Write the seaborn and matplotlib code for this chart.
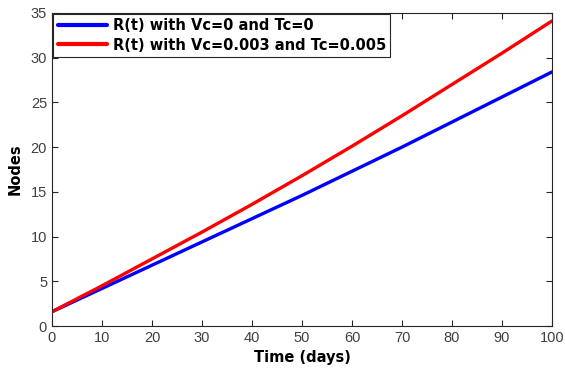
import numpy as np
import pandas as pd
import matplotlib
matplotlib.use("Agg")
import matplotlib.pyplot as plt
import seaborn as sns

days = [0, 10, 20, 30, 40, 50, 60, 70, 80, 90, 100]
r_base = [1.6, 4.2, 6.8, 9.4, 12.0, 14.6, 17.3, 20.0, 22.8, 25.6, 28.4]
r_ctrl = [1.6, 4.5, 7.5, 10.5, 13.6, 16.8, 20.1, 23.5, 27.0, 30.5, 34.1]
labels = ["R(t) with Vc=0 and Tc=0", "R(t) with Vc=0.003 and Tc=0.005"]
xticks = [0, 10, 20, 30, 40, 50, 60, 70, 80, 90, 100]
yticks = [0, 5, 10, 15, 20, 25, 30, 35]

df = pd.DataFrame({
    "t": days + days,
    "v": r_base + r_ctrl,
    "s": [labels[0]] * len(days) + [labels[1]] * len(days),
})

sns.set_style("white")
plt.rcParams["font.family"] = ["Liberation Sans", "DejaVu Sans"]

fig = plt.figure(figsize=(5.65, 3.68), dpi=100)
ax = fig.add_axes([0.092, 0.114, 0.885, 0.851])
sns.lineplot(data=df, x="t", y="v", hue="s", palette=["#0000ff", "#ff0000"],
             linewidth=2.4, ax=ax, legend=True)

ax.set_xlim(0, 100)
ax.set_ylim(0, 35)
ax.set_xticks(xticks)
ax.set_yticks(yticks)
gray = "#262626"
for sp in ax.spines.values():
    sp.set_visible(True)
    sp.set_color(gray)
    sp.set_linewidth(0.8)
ax.tick_params(direction="in", length=4, width=0.8, colors=gray,
               labelcolor="#404040", labelsize=10.5, top=True, right=True,
               bottom=True, left=True)
ax.set_xlabel("Time (days)", fontsize=10.5, fontweight="bold", color="black",
              labelpad=4, family="DejaVu Sans")
ax.set_ylabel("Nodes", fontsize=10.5, fontweight="bold", color="black",
              labelpad=6, family="DejaVu Sans")

leg = ax.legend(loc="upper left", bbox_to_anchor=(0.003, 0.997), frameon=True,
                fancybox=False, edgecolor=gray, framealpha=1,
                prop={"weight": "bold", "size": 10.5, "family": "DejaVu Sans"},
                handlelength=3.4, handletextpad=0.35, borderpad=0.3,
                labelspacing=0.3, borderaxespad=0.0)
leg.get_frame().set_linewidth(0.8)
for line in leg.get_lines():
    line.set_linewidth(3)
for txt in leg.get_texts():
    txt.set_color("black")

fig.savefig("out.png", dpi=100)
